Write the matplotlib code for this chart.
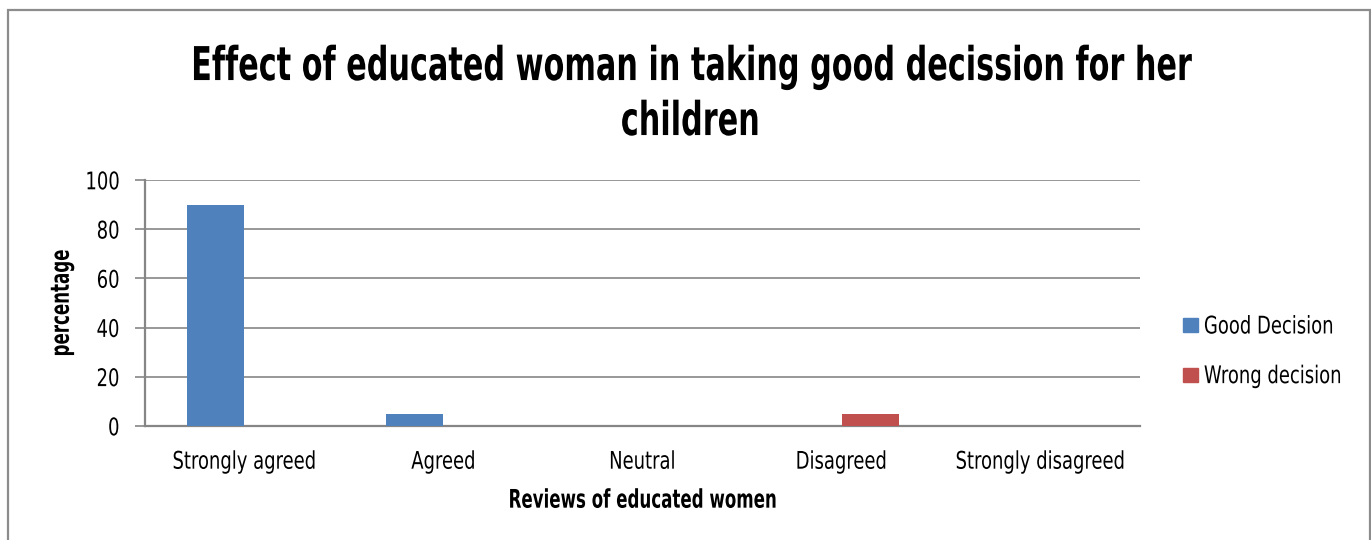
import matplotlib
matplotlib.use('Agg')
import matplotlib.pyplot as plt
from matplotlib.patches import Rectangle, Patch
from matplotlib.patheffects import AbstractPathEffect
from matplotlib.transforms import Affine2D
import numpy as np

categories = ['Strongly agreed', 'Agreed', 'Neutral', 'Disagreed', 'Strongly disagreed']
good_decision = [90, 5, 0, 0, 0]
wrong_decision = [0, 0, 0, 5, 0]
y_ticks = [0, 20, 40, 60, 80, 100]
series_names = ['Good Decision', 'Wrong decision']
title = 'Effect of educated woman in taking good decission for her\nchildren'


class Tall(AbstractPathEffect):
    """Stretch glyphs vertically about mid cap height -> condensed look."""

    def __init__(self, sy):
        super().__init__()
        self.sy = sy

    def draw_path(self, renderer, gc, tpath, affine, rgbFace=None):
        # text paths are built at 100 units per em, cap height ~73
        mid = 36.5
        t = Affine2D().translate(0, -mid).scale(1, self.sy).translate(0, mid) + affine
        renderer.draw_path(gc, tpath, t, rgbFace)


REG = Tall(1 / 0.74)   # regular text
BLD = Tall(1 / 0.65)   # bold text

plt.rcParams['font.family'] = ['DejaVu Sans']

W, H = 1371, 540
fig = plt.figure(figsize=(W / 100, H / 100), dpi=100)
fig.patch.set_facecolor('white')

# chart frame
fig.patches.append(Rectangle((8 / W, -0.05), (1370 - 8) / W, 1.05 - 10 / H,
                             transform=fig.transFigure, fill=False,
                             edgecolor='#8c8c8c', lw=1.6))

ax = fig.add_axes([145 / W, (H - 426) / H, (1140 - 145) / W, (426 - 180) / H])

x = np.arange(len(categories))
bw = 0.285
ax.bar(x - 0.147, good_decision, bw, color='#4F81BD', zorder=3)
ax.bar(x + 0.145, wrong_decision, bw, color='#C0504D', zorder=3)

ax.set_xlim(-0.5, len(categories) - 0.5)
ax.set_ylim(0, 100)
ax.set_yticks(y_ticks)
ax.set_xticks(x)
ax.set_xticklabels(categories)
ax.tick_params(axis='y', length=7, width=1.2, color='#868686', labelsize=12.95, pad=11.5)
ax.tick_params(axis='x', length=0, labelsize=12.95, pad=19)
ax.grid(axis='y', color='#868686', lw=1.2, zorder=0)

for s in ['top', 'right']:
    ax.spines[s].set_visible(False)
for s in ['left', 'bottom']:
    ax.spines[s].set_color('#868686')
    ax.spines[s].set_linewidth(1.6)

for lab in ax.get_yticklabels() + ax.get_xticklabels():
    lab.set_path_effects([REG])

ax.set_ylabel('percentage', fontsize=12.0, fontweight='bold', path_effects=[BLD])
ax.yaxis.set_label_coords(-(145 - 69.5) / 995, 0.5)
ax.set_xlabel('Reviews of educated women', fontsize=12.0, fontweight='bold',
              path_effects=[BLD])
ax.xaxis.set_label_coords(0.5, -(490.4 - 426) / 246)

# baseline alignment refers to the last line here
fig.text(690 / W, 1 - 129.1 / H, title, ha='center', va='baseline', fontsize=21.8,
         fontweight='bold', linespacing=2.13, path_effects=[BLD])

handles = [Patch(color='#4F81BD'), Patch(color='#C0504D')]
leg = fig.legend(handles, series_names, loc='center left',
                 bbox_to_anchor=(1183 / W, 1 - 351 / H), borderpad=0, borderaxespad=0,
                 frameon=False, fontsize=12.95, handlelength=0.833, handleheight=0.833,
                 handletextpad=0.33, labelspacing=1.76)
for t in leg.get_texts():
    t.set_path_effects([REG])

fig.savefig('out.png', dpi=100)
